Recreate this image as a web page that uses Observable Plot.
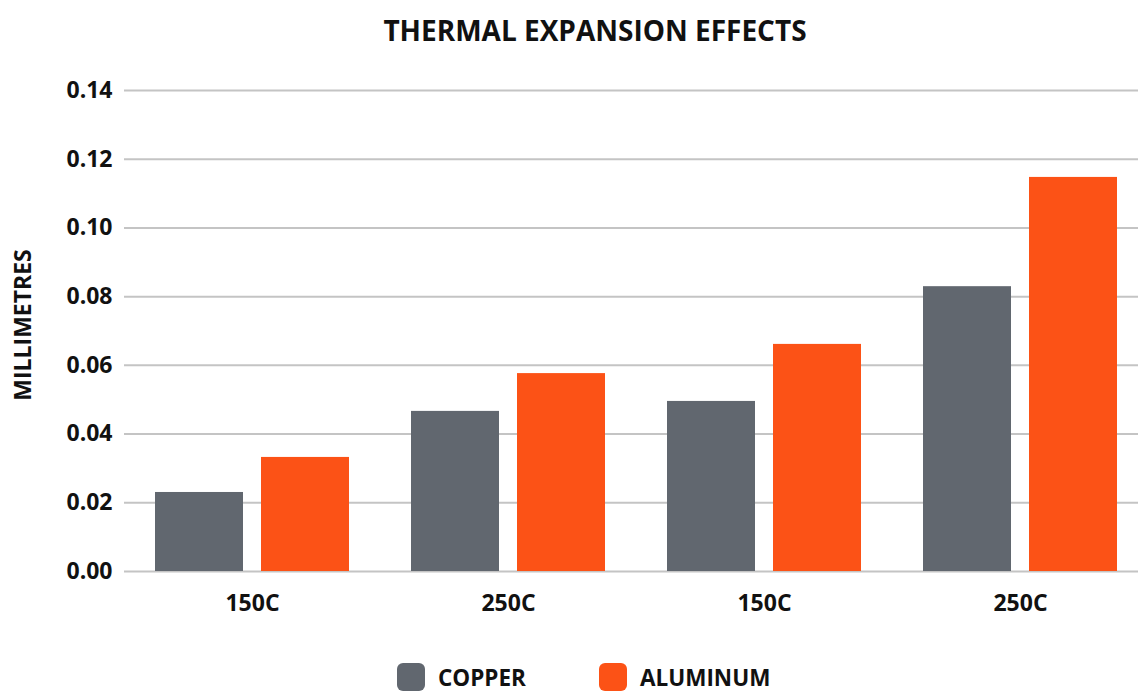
<!DOCTYPE html>
<html><head><meta charset="utf-8">
<script src="https://cdn.jsdelivr.net/npm/d3@7"></script>
<script src="https://cdn.jsdelivr.net/npm/@observablehq/plot@0.6"></script>
<style>
body{margin:0;background:#fff;font-family:"Open Sans",sans-serif;color:#111;width:1138px;overflow:hidden;position:relative}
#title{height:60px;line-height:60px;text-align:center;font-weight:700;font-size:28px;padding-left:52px;box-sizing:border-box}
#chart svg{display:block}
#ylabel{position:absolute;left:22px;top:325px;transform:translate(-50%,-50%) rotate(-90deg);font-weight:700;font-size:23px;white-space:nowrap}
#legend{display:flex;align-items:center;padding-left:397px;margin-top:13px;height:28px;font-weight:700;font-size:22.5px}
.item{display:flex;align-items:center;margin-right:73px}
.sw{width:28px;height:28px;border-radius:6px;margin-right:13px}
</style></head><body>
<div id="title">THERMAL EXPANSION EFFECTS</div>
<div id="chart"></div>
<div id="ylabel">MILLIMETRES</div>
<div id="legend"></div>
<script>
const groups = ["g1", "g2", "g3", "g4"];
const groupLabels = ["150C", "250C", "150C", "250C"];
const series = ["COPPER", "ALUMINUM"];
const copper = [0.0230, 0.0466, 0.0495, 0.0829];
const aluminum = [0.0332, 0.0576, 0.0661, 0.1147];
const colors = ["#61676F", "#FC5216"];
const yTicks = [0, 0.02, 0.04, 0.06, 0.08, 0.10, 0.12, 0.14];
const yLabel = "MILLIMETRES";

const data = groups.flatMap((g, i) => [
  {group: g, series: series[0], value: copper[i]},
  {group: g, series: series[1], value: aluminum[i]}
]);

const chart = Plot.plot({
  width: 1138, height: 590,
  marginLeft: 122, marginRight: -11, marginTop: 30, marginBottom: 79,
  style: {fontFamily: "Open Sans", fontWeight: 700, fontSize: "23px", color: "#111", background: "#fff", overflow: "visible"},
  fx: {domain: groups, padding: 0, tickFormat: d => groupLabels[groups.indexOf(d)], label: null, tickSize: 0, tickPadding: 23, axis: "bottom"},
  x: {domain: series, paddingInner: 0.17, paddingOuter: 0.291, axis: null},
  y: {domain: [0, 0.14], ticks: yTicks, tickFormat: d3.format(".2f"), tickSize: 0, tickPadding: 12, label: null},
  color: {domain: series, range: colors},
  marks: [
    Plot.ruleY(yTicks, {stroke: "#c4c4c4", strokeWidth: 2}),
    Plot.barY(data, {fx: "group", x: "series", y: "value", fill: "series"})
  ]
});
document.getElementById("chart").append(chart);
document.getElementById("ylabel").textContent = yLabel;

const legend = document.getElementById("legend");
series.forEach((s, i) => {
  const it = document.createElement("div"); it.className = "item";
  const sw = document.createElement("div"); sw.className = "sw"; sw.style.background = colors[i];
  const t = document.createElement("span"); t.textContent = s;
  it.append(sw, t); legend.append(it);
});
</script>
</body></html>
